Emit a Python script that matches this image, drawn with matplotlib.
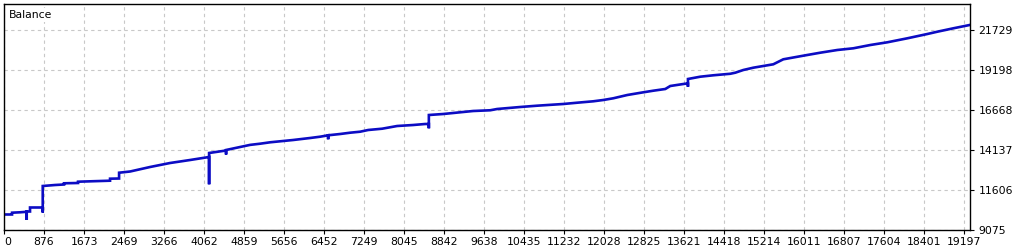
import matplotlib
matplotlib.use("Agg")
import matplotlib.pyplot as plt

# Balance curve (trade number, balance)
trades = [79, 239, 239, 398, 531, 531, 531, 597, 597, 850, 850, 850,
          1095, 1274, 1274, 1553, 1553, 2190, 2190, 2370, 2370, 2589,
          2987, 3385, 3784, 4162, 4162, 4162, 4500, 4500, 4500, 4779,
          4978, 5178, 5377, 5576, 5835, 6173, 6373, 6532, 6532, 6532,
          6771, 6970, 7169, 7329, 7607, 7906, 8225, 8464, 8537, 8537,
          8537, 8822, 9160, 9419, 9758, 9897, 10355, 10694, 11212, 11491,
          11810, 12009, 12208, 12487, 12806, 13005, 13244, 13343, 13642,
          13695, 13695, 13695, 13940, 14199, 14538, 14637, 14797, 14996,
          15394, 15593, 15991, 16330, 16669, 16987, 17326, 17664, 18063,
          18461, 18660, 18979, 19303]
balance = [10056, 10056, 10170, 10195, 10227, 9708, 10246, 10246, 10499,
           10499, 10182, 11859, 11922, 11954, 12030, 12049, 12131, 12194,
           12321, 12333, 12700, 12776, 13061, 13314, 13504, 13694, 11966,
           13947, 14105, 13852, 14137, 14326, 14460, 14535, 14624, 14687,
           14769, 14896, 14978, 15067, 14814, 15067, 15149, 15231, 15294,
           15402, 15484, 15655, 15718, 15782, 15782, 15509, 16351, 16414,
           16522, 16604, 16650, 16731, 16857, 16940, 17047, 17129, 17218,
           17300, 17408, 17616, 17787, 17888, 17996, 18186, 18331, 18331,
           18142, 18629, 18774, 18863, 18960, 19027, 19198, 19344, 19559,
           19875, 20103, 20293, 20464, 20571, 20780, 20951, 21204, 21476,
           21621, 21837, 22045]

x_ticks = [0, 876, 1673, 2469, 3266, 4062, 4859, 5656, 6452, 7249, 8045,
           8842, 9638, 10435, 11232, 12028, 12825, 13621, 14418, 15214,
           16011, 16807, 17604, 18401, 19197]
y_ticks = [9075, 11606, 14137, 16668, 19198, 21729]

X_MIN, X_MAX = 79, 19316
Y_MIN, Y_MAX = 9075, 23355

plt.rcParams['font.family'] = ['DejaVu Sans']

fig = plt.figure(figsize=(10.25, 2.5), dpi=100)
ax = fig.add_axes([4 / 1025, 20 / 250, 966.3 / 1025, 225.7 / 250])

ax.plot(trades, balance, color='#0C0CC4', linewidth=1.9, solid_joinstyle='miter')

ax.set_xlim(X_MIN, X_MAX)
ax.set_ylim(Y_MIN, Y_MAX)

# first label sits on the left border like in the terminal
xpos = [X_MIN] + x_ticks[1:]
ax.set_xticks(xpos)
ax.set_xticklabels([str(v) for v in x_ticks])
ax.get_xticklabels()[0].set_horizontalalignment('left')
ax.set_yticks(y_ticks)
ax.set_yticklabels([str(v) for v in y_ticks])

ax.yaxis.tick_right()
ax.tick_params(axis='both', direction='out', length=3, width=0.8,
               labelsize=7.8, pad=2, colors='black')
ax.tick_params(axis='y', pad=3)

ax.grid(True, color='#c8c8c8', linestyle=(0, (3, 3)), linewidth=0.8)
ax.set_axisbelow(True)
for sp in ax.spines.values():
    sp.set_color('black')
    sp.set_linewidth(1.0)

ax.text(5 / 966.3, 1 - 11 / 225.7, "Balance", transform=ax.transAxes,
        fontsize=7.8, va='center', ha='left',
        bbox=dict(facecolor='white', edgecolor='none', pad=1.5))

fig.savefig("out.png", dpi=100)
